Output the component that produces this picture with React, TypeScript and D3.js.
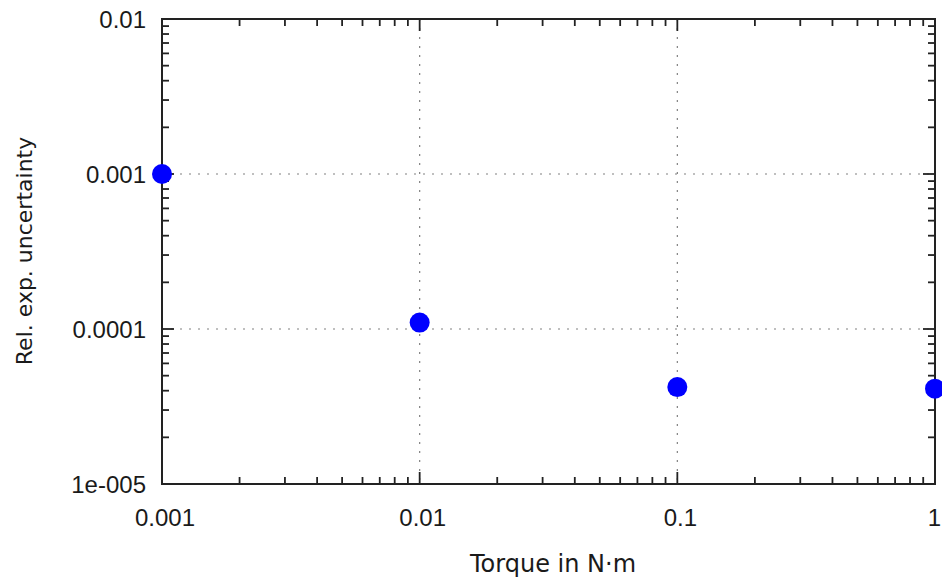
import { useEffect, useRef } from 'react';
import * as d3 from 'd3';

const torque = [0.001, 0.01, 0.1, 1];
const relUncertainty = [0.001, 0.00011, 0.0000422, 0.0000412];
const xTicks = [0.001, 0.01, 0.1, 1];
const xTickLabels = ['0.001', '0.01', '0.1', '1'];
const yTicks = [0.00001, 0.0001, 0.001, 0.01];
const yTickLabels = ['1e-005', '0.0001', '0.001', '0.01'];

export default function App() {
  const svgRef = useRef<SVGSVGElement>(null);

  useEffect(() => {
    if (!svgRef.current) return;
    const svg = d3.select(svgRef.current);
    svg.selectAll('*').remove();

    const left = 162, right = 935, top = 19, bottom = 484;
    const font = "'DejaVu Sans', Verdana, sans-serif";
    const tickFont = "'Liberation Sans', Arial, sans-serif";

    const x = d3.scaleLog().domain([0.001, 1]).range([left, right]);
    const y = d3.scaleLog().domain([0.00001, 0.01]).range([bottom, top]);

    // minor ticks (2..9 in each decade)
    const minorX: number[] = [];
    for (let d = 0.001; d < 1; d *= 10)
      for (let k = 2; k <= 9; k++) minorX.push(d * k);
    const minorY: number[] = [];
    for (let d = 0.00001; d < 0.01; d *= 10)
      for (let k = 2; k <= 9; k++) minorY.push(d * k);

    // grid
    const grid = svg.append('g')
      .attr('stroke', '#808080')
      .attr('stroke-width', 1.2)
      .attr('stroke-dasharray', '2,7');
    xTicks.slice(1, -1).forEach(t => {
      grid.append('line')
        .attr('x1', x(t)).attr('x2', x(t))
        .attr('y1', top).attr('y2', bottom);
    });
    yTicks.slice(1, -1).forEach(t => {
      grid.append('line')
        .attr('x1', left).attr('x2', right)
        .attr('y1', y(t)).attr('y2', y(t));
    });

    const ticks = svg.append('g').attr('stroke', '#222').attr('stroke-width', 1.8);
    const minorLen = 7, majorLen = 12;
    minorX.forEach(t => {
      ticks.append('line').attr('x1', x(t)).attr('x2', x(t)).attr('y1', bottom).attr('y2', bottom - minorLen);
      ticks.append('line').attr('x1', x(t)).attr('x2', x(t)).attr('y1', top).attr('y2', top + minorLen);
    });
    xTicks.forEach(t => {
      ticks.append('line').attr('x1', x(t)).attr('x2', x(t)).attr('y1', bottom).attr('y2', bottom - majorLen);
      ticks.append('line').attr('x1', x(t)).attr('x2', x(t)).attr('y1', top).attr('y2', top + majorLen);
    });
    minorY.forEach(t => {
      ticks.append('line').attr('x1', left).attr('x2', left + minorLen).attr('y1', y(t)).attr('y2', y(t));
      ticks.append('line').attr('x1', right).attr('x2', right - minorLen).attr('y1', y(t)).attr('y2', y(t));
    });
    yTicks.forEach(t => {
      ticks.append('line').attr('x1', left).attr('x2', left + majorLen).attr('y1', y(t)).attr('y2', y(t));
      ticks.append('line').attr('x1', right).attr('x2', right - majorLen).attr('y1', y(t)).attr('y2', y(t));
    });

    // frame
    svg.append('rect')
      .attr('x', left).attr('y', top)
      .attr('width', right - left).attr('height', bottom - top)
      .attr('fill', 'none').attr('stroke', '#222').attr('stroke-width', 2);

    // tick labels
    const lastX = xTicks.length - 1;
    svg.append('g').selectAll('text')
      .data(xTicks)
      .join('text')
      .attr('x', (d, i) => (i === lastX ? 941 : x(d) + 3))
      .attr('y', 526)
      .attr('text-anchor', (d, i) => (i === lastX ? 'end' : 'middle'))
      .attr('font-family', tickFont)
      .attr('font-size', 24)
      .attr('fill', '#1a1a1a')
      .text((d, i) => xTickLabels[i]);

    svg.append('g').selectAll('text')
      .data(yTicks)
      .join('text')
      .attr('x', 146)
      .attr('y', d => y(d) + 9)
      .attr('text-anchor', 'end')
      .attr('font-family', tickFont)
      .attr('font-size', 24)
      .attr('fill', '#1a1a1a')
      .text((d, i) => yTickLabels[i]);

    // axis titles
    svg.append('text')
      .attr('x', 553)
      .attr('y', 572)
      .attr('text-anchor', 'middle')
      .attr('font-family', font)
      .attr('font-size', 24)
      .attr('fill', '#1a1a1a')
      .text('Torque in N·m');

    svg.append('text')
      .attr('transform', `translate(32,251) rotate(-90)`)
      .attr('text-anchor', 'middle')
      .attr('font-family', font)
      .attr('font-size', 22)
      .attr('fill', '#1a1a1a')
      .text('Rel. exp. uncertainty');

    // points
    svg.append('g').selectAll('circle')
      .data(torque)
      .join('circle')
      .attr('cx', d => x(d))
      .attr('cy', (d, i) => y(relUncertainty[i]))
      .attr('r', 10)
      .attr('fill', '#0000ff');
  }, []);

  return (
    <svg
      ref={svgRef}
      width={942}
      height={579}
      style={{ position: 'absolute', left: 0, top: 0, background: '#fff' }}
    />
  );
}
